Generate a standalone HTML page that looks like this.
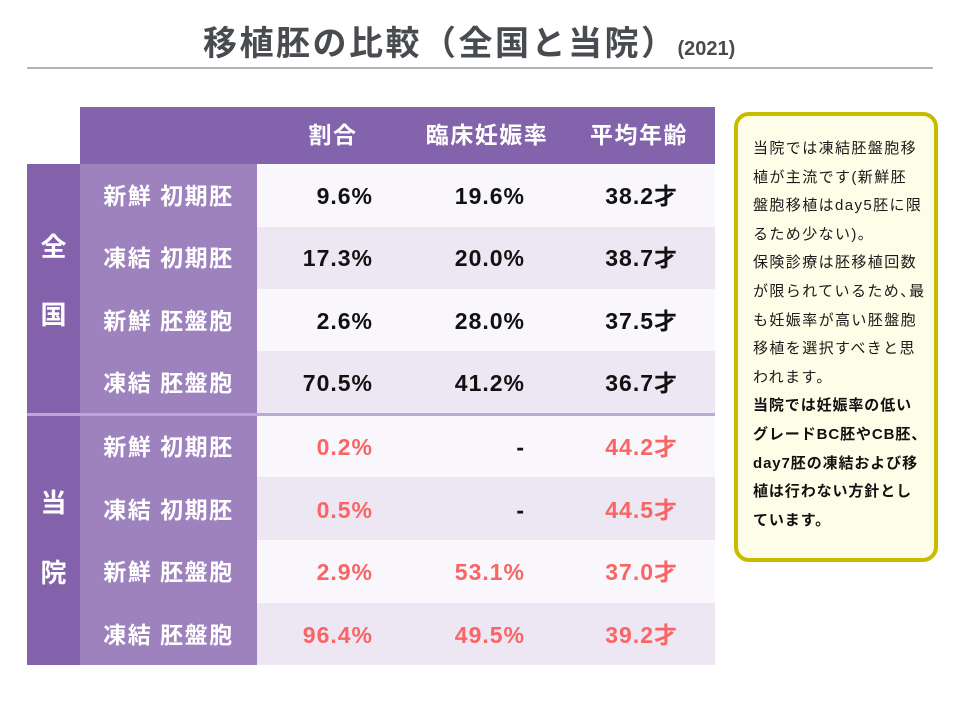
<!DOCTYPE html>
<html><head><meta charset="utf-8">
<style>
*{margin:0;padding:0;box-sizing:border-box}
body{width:960px;height:720px;background:#fff;position:relative;overflow:hidden;font-family:"Liberation Sans","Noto Sans CJK JP",sans-serif;}
.a{position:absolute;white-space:nowrap}
.title{left:203px;top:22px;font-size:34px;font-weight:bold;color:#484b4f;letter-spacing:2.5px;line-height:44px}
.title small{font-size:20px;letter-spacing:0;}
.hr{left:27px;top:67px;width:906px;height:2px;background:#b3b3b3}
.hd{left:80px;top:107px;width:635px;height:57px;background:#8463ad}
.ht{font-size:23px;font-weight:bold;color:#fff;letter-spacing:1.5px;top:118px;line-height:34px;text-align:center;width:200px}
.big{left:27px;width:53px;background:#8462ab}
.sub{left:80px;width:177px;background:#9d82be}
.bc{left:27px;width:53px;text-align:center;font-size:26px;font-weight:bold;color:#fff;line-height:34px}
.row{left:257px;width:458px;height:63px}
.r1{background:#f9f7fc}.r2{background:#ede6f3}
.lb{left:80px;width:177px;text-align:center;font-size:23px;font-weight:bold;color:#fff;letter-spacing:1.5px;line-height:34px}
.v{font-size:23px;font-weight:bold;color:#111;letter-spacing:1px;line-height:34px;text-align:right;width:150px}
.red{color:#f96565}
.c1{left:223px}.c2{left:375px}.c3{left:528px}
.note{left:734px;top:112px;width:204px;height:450px;border:4px solid #c8bc00;border-radius:15px;background:#fefee8}
.nt{left:753px;top:135px;font-size:15px;line-height:28.6px;color:#1a1a1a;letter-spacing:1.4px}
.nt b{font-weight:bold;color:#111;letter-spacing:0.9px}
.cm{display:inline-block;width:9px;overflow:visible}
</style></head><body>
<div class="a title">移植胚の比較（全国と当院）<small>(2021)</small></div>
<div class="a hr"></div>

<div class="a hd"></div>
<div class="a ht" style="left:233px">割合</div>
<div class="a ht" style="left:387px">臨床妊娠率</div>
<div class="a ht" style="left:539px">平均年齢</div>

<div class="a big" style="top:164px;height:249px"></div>
<div class="a big" style="top:416px;height:249px"></div>
<div class="a sub" style="top:164px;height:249px"></div>
<div class="a sub" style="top:416px;height:249px"></div>
<div class="a" style="left:27px;top:413px;width:688px;height:3px;background:#bba8d6"></div>

<div class="a row r1" style="top:164px"></div>
<div class="a row r2" style="top:227px"></div>
<div class="a row r1" style="top:289px"></div>
<div class="a row r2" style="top:351px;height:62px"></div>
<div class="a row r1" style="top:416px;height:61px"></div>
<div class="a row r2" style="top:477px"></div>
<div class="a row r1" style="top:540px"></div>
<div class="a row r2" style="top:603px;height:62px"></div>

<div class="a bc" style="top:230px">全</div>
<div class="a bc" style="top:298px">国</div>
<div class="a bc" style="top:486px">当</div>
<div class="a bc" style="top:556px">院</div>

<div class="a lb" style="top:179px">新鮮 初期胚</div>
<div class="a lb" style="top:241px">凍結 初期胚</div>
<div class="a lb" style="top:304px">新鮮 胚盤胞</div>
<div class="a lb" style="top:366px">凍結 胚盤胞</div>
<div class="a lb" style="top:430px">新鮮 初期胚</div>
<div class="a lb" style="top:493px">凍結 初期胚</div>
<div class="a lb" style="top:555px">新鮮 胚盤胞</div>
<div class="a lb" style="top:618px">凍結 胚盤胞</div>

<div class="a v c1" style="top:179px">9.6%</div>
<div class="a v c2" style="top:179px">19.6%</div>
<div class="a v c3" style="top:179px">38.2才</div>
<div class="a v c1" style="top:241px">17.3%</div>
<div class="a v c2" style="top:241px">20.0%</div>
<div class="a v c3" style="top:241px">38.7才</div>
<div class="a v c1" style="top:304px">2.6%</div>
<div class="a v c2" style="top:304px">28.0%</div>
<div class="a v c3" style="top:304px">37.5才</div>
<div class="a v c1" style="top:366px">70.5%</div>
<div class="a v c2" style="top:366px">41.2%</div>
<div class="a v c3" style="top:366px">36.7才</div>

<div class="a v c1 red" style="top:430px">0.2%</div>
<div class="a v c2" style="top:430px">-</div>
<div class="a v c3 red" style="top:430px">44.2才</div>
<div class="a v c1 red" style="top:493px">0.5%</div>
<div class="a v c2" style="top:493px">-</div>
<div class="a v c3 red" style="top:493px">44.5才</div>
<div class="a v c1 red" style="top:555px">2.9%</div>
<div class="a v c2 red" style="top:555px">53.1%</div>
<div class="a v c3 red" style="top:555px">37.0才</div>
<div class="a v c1 red" style="top:618px">96.4%</div>
<div class="a v c2 red" style="top:618px">49.5%</div>
<div class="a v c3 red" style="top:618px">39.2才</div>

<div class="a note"></div>
<div class="a nt">当院では凍結胚盤胞移<br>植が主流です(新鮮胚<br>盤胞移植はday5胚に限<br>るため少ない)。<br>保険診療は胚移植回数<br>が限られているため<span class="cm">、</span>最<br>も妊娠率が高い胚盤胞<br>移植を選択すべきと思<br>われます。<br><b>当院では妊娠率の低い<br>グレードBC胚やCB胚<span class="cm">、</span><br>day7胚の凍結および移<br>植は行わない方針とし<br>ています。</b></div>
</body></html>
